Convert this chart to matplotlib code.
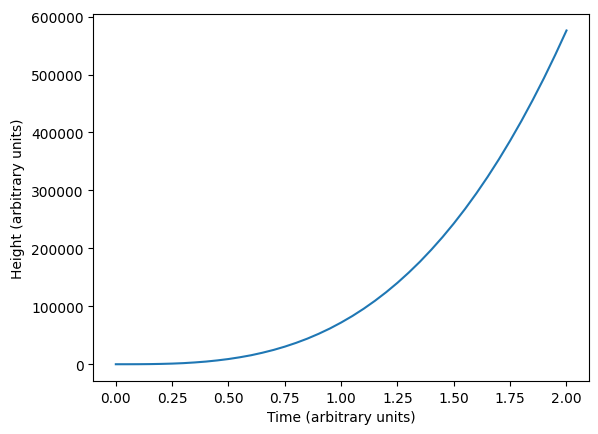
import matplotlib
matplotlib.use("Agg")
import matplotlib.pyplot as plt

# values
time = [0.0, 0.05, 0.1, 0.15, 0.2, 0.25, 0.3, 0.35, 0.4, 0.45, 0.5,
        0.55, 0.6, 0.65, 0.7, 0.75, 0.8, 0.85, 0.9, 0.95, 1.0,
        1.05, 1.1, 1.15, 1.2, 1.25, 1.3, 1.35, 1.4, 1.45, 1.5,
        1.55, 1.6, 1.65, 1.7, 1.75, 1.8, 1.85, 1.9, 1.95, 2.0]
height = [0, 10, 70, 240, 580, 1100, 1900, 3100, 4600, 6600, 9000,
          12000, 15500, 19800, 24700, 30400, 36900, 44200, 52500, 61700, 72000,
          83300, 95800, 109500, 124400, 140600, 158200, 177100, 197600, 219500, 243000,
          268100, 294900, 323400, 353700, 385900, 419900, 455900, 493800, 533900, 576000]

fig, ax = plt.subplots(figsize=(5.98, 4.35), dpi=100)
fig.subplots_adjust(left=0.156, right=0.985, top=0.966, bottom=0.122)

ax.plot(time, height, color="#1f77b4")
ax.set_xlabel("Time (arbitrary units)")
ax.set_ylabel("Height (arbitrary units)")

plt.savefig("out.png")
